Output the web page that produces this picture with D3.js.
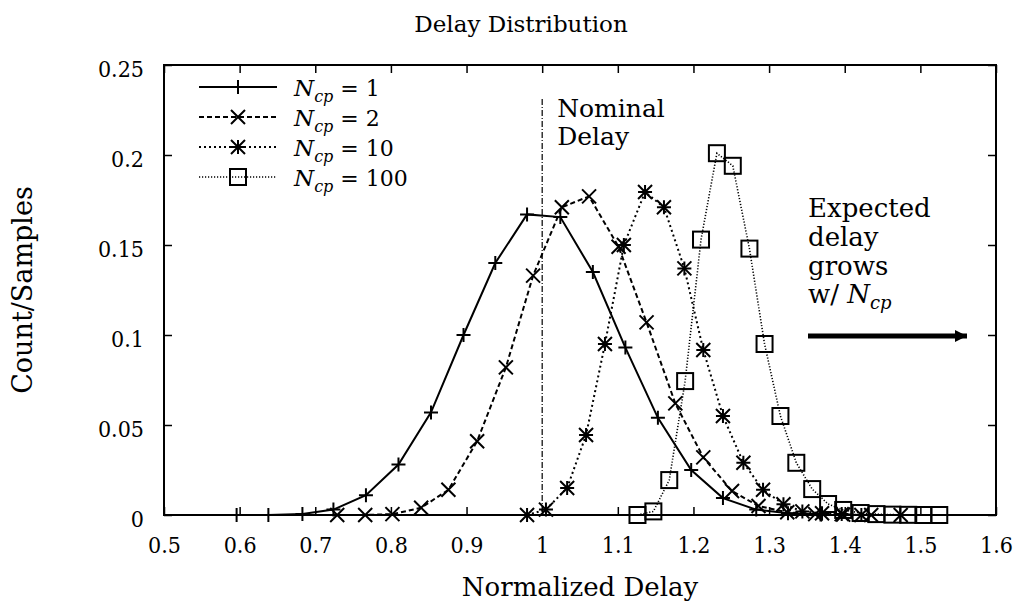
<!DOCTYPE html>
<html>
<head>
<meta charset="utf-8">
<script src="https://cdn.jsdelivr.net/npm/d3@7"></script>
<style>
  body { margin: 0; background: #fff; }
</style>
</head>
<body>
<div id="chart"></div>
<script>
// Data (x = normalized delay, y = count/samples)
const ncp1X = [0.596, 0.638, 0.683, 0.724, 0.767, 0.810, 0.853, 0.896, 0.938, 0.980, 1.024, 1.067, 1.110, 1.153, 1.197, 1.239, 1.283, 1.325, 1.368];
const ncp1Y = [0, 0, 0.0005, 0.003, 0.011, 0.028, 0.057, 0.100, 0.140, 0.167, 0.1655, 0.135, 0.093, 0.054, 0.025, 0.0094, 0.003, 0.001, 0.0003];

const ncp2X = [0.729, 0.766, 0.802, 0.840, 0.876, 0.914, 0.952, 0.988, 1.026, 1.062, 1.101, 1.138, 1.176, 1.213, 1.251, 1.286, 1.324, 1.361, 1.398, 1.435, 1.474];
const ncp2Y = [0, 0, 0.0005, 0.004, 0.014, 0.041, 0.082, 0.133, 0.171, 0.177, 0.149, 0.107, 0.062, 0.032, 0.0133, 0.005, 0.0015, 0.0005, 0.0002, 0, 0];

const ncp10X = [0.980, 1.005, 1.033, 1.058, 1.083, 1.108, 1.136, 1.161, 1.188, 1.213, 1.239, 1.266, 1.292, 1.319, 1.344, 1.370, 1.396, 1.422];
const ncp10Y = [0, 0.003, 0.015, 0.0444, 0.095, 0.150, 0.1794, 0.171, 0.137, 0.0917, 0.055, 0.029, 0.014, 0.006, 0.002, 0.001, 0.0005, 0];

const ncp100X = [1.126, 1.147, 1.168, 1.189, 1.210, 1.231, 1.252, 1.274, 1.294, 1.315, 1.336, 1.357, 1.378, 1.398, 1.421, 1.442, 1.463, 1.484, 1.504, 1.525];
const ncp100Y = [0, 0.002, 0.0194, 0.0744, 0.153, 0.201, 0.194, 0.148, 0.095, 0.055, 0.029, 0.0144, 0.0061, 0.0028, 0.0011, 0.0005, 0.0002, 0.0001, 0, 0];

const seriesNames = ["1", "2", "10", "100"];
const xTicks = [0.5, 0.6, 0.7, 0.8, 0.9, 1.0, 1.1, 1.2, 1.3, 1.4, 1.5, 1.6];
const yTicks = [0, 0.05, 0.1, 0.15, 0.2, 0.25];
const nominalDelay = 1.0;

const FONT = "'DejaVu Serif', serif";
const TICKFONT = "'DejaVu Serif Condensed', 'DejaVu Serif', serif";

const width = 1025, height = 608;
const margin = { top: 65, right: 29, bottom: 93, left: 164 };
const w = width - margin.left - margin.right;
const h = height - margin.top - margin.bottom;

const svg = d3.select("#chart").append("svg")
    .attr("width", width)
    .attr("height", height)
    .attr("font-family", FONT);

const g = svg.append("g")
    .attr("transform", "translate(" + margin.left + "," + margin.top + ")");

const x = d3.scaleLinear().domain([0.5, 1.6]).range([0, w]);
const y = d3.scaleLinear().domain([0, 0.25]).range([h, 0]);

const fmt = d => String(+d.toFixed(2));

// axes, ticks pointing inward on all four sides
g.append("g")
    .attr("transform", "translate(0," + h + ")")
    .call(d3.axisBottom(x).tickValues(xTicks).tickFormat(fmt).tickSize(-8).tickPadding(22));
g.append("g")
    .call(d3.axisTop(x).tickValues(xTicks).tickFormat("").tickSize(-8));
g.append("g").attr("class", "yaxis")
    .call(d3.axisLeft(y).tickValues(yTicks).tickFormat(fmt).tickSize(-8).tickPadding(20));
g.append("g")
    .attr("transform", "translate(" + w + ",0)")
    .call(d3.axisRight(y).tickValues(yTicks).tickFormat("").tickSize(-8));

g.selectAll(".domain").remove();
g.selectAll(".tick line").attr("stroke", "#000").attr("stroke-width", 1.5);
g.selectAll("g").attr("font-family", TICKFONT);
g.selectAll(".tick text").attr("font-size", 23).attr("fill", "#000");
g.selectAll(".yaxis .tick text").attr("dy", "0.5em");

g.append("rect")
    .attr("width", w).attr("height", h)
    .attr("fill", "none").attr("stroke", "#000").attr("stroke-width", 2);

// nominal delay marker
g.append("line")
    .attr("x1", x(nominalDelay)).attr("x2", x(nominalDelay))
    .attr("y1", 34).attr("y2", h)
    .attr("stroke", "#000").attr("stroke-width", 1.2)
    .attr("stroke-dasharray", "6,2,1,2");

const series = [
    { xs: ncp1X, ys: ncp1Y, dash: null, mark: "plus" },
    { xs: ncp2X, ys: ncp2Y, dash: "5,3", mark: "cross" },
    { xs: ncp10X, ys: ncp10Y, dash: "2,3", mark: "star" },
    { xs: ncp100X, ys: ncp100Y, dash: "1.2,1.8", mark: "box" }
];

const line = d3.line().x(d => x(d[0])).y(d => y(d[1]));

function drawMark(sel, type, cx, cy) {
    const s = 7;
    const p = sel.append("g").attr("transform", "translate(" + cx + "," + cy + ")")
        .attr("stroke", "#000").attr("stroke-width", 2).attr("fill", "none");
    if (type === "plus" || type === "star") {
        p.append("path").attr("d", `M${-s},0H${s}M0,${-s}V${s}`);
    }
    if (type === "cross" || type === "star") {
        p.append("path").attr("d", `M${-s},${-s}L${s},${s}M${-s},${s}L${s},${-s}`);
    }
    if (type === "box") {
        p.append("rect").attr("x", -s - 1).attr("y", -s - 1).attr("width", 2 * s + 2).attr("height", 2 * s + 2);
    }
}

series.forEach(sr => {
    const pts = sr.xs.map((v, i) => [v, sr.ys[i]]);
    g.append("path")
        .datum(pts)
        .attr("d", line)
        .attr("fill", "none")
        .attr("stroke", "#000")
        .attr("stroke-width", sr.dash === "1.2,1.8" ? 1.6 : 2)
        .attr("stroke-dasharray", sr.dash);
    const mg = g.append("g");
    pts.forEach(pt => drawMark(mg, sr.mark, x(pt[0]), y(pt[1])));
});

// legend
const legend = g.append("g").attr("transform", "translate(35,22)").attr("font-family", FONT);
series.forEach((sr, i) => {
    const row = legend.append("g").attr("transform", "translate(0," + (i * 30) + ")");
    row.append("line")
        .attr("x1", 0).attr("x2", 78).attr("y1", 0).attr("y2", 0)
        .attr("stroke", "#000").attr("stroke-width", sr.dash === "1.2,1.8" ? 1.6 : 2)
        .attr("stroke-dasharray", sr.dash);
    drawMark(row, sr.mark, 39, 0);
    const t = row.append("text").attr("x", 95).attr("y", 9).attr("font-size", 23);
    t.append("tspan").attr("font-style", "italic").text("N");
    t.append("tspan").attr("font-style", "italic").attr("font-size", 16).attr("dy", 6).text("cp");
    t.append("tspan").attr("dy", -6).attr("font-size", 22).text(" = " + seriesNames[i]);
});

// annotations
const nominal = g.append("text").attr("font-size", 25).attr("font-family", FONT);
nominal.append("tspan").attr("x", x(nominalDelay) + 15).attr("y", 52).text("Nominal");
nominal.append("tspan").attr("x", x(nominalDelay) + 15).attr("y", 80).text("Delay");

const ann = g.append("text").attr("font-size", 26).attr("font-family", FONT);
const annX = 644;
ann.append("tspan").attr("x", annX).attr("y", 152).text("Expected");
ann.append("tspan").attr("x", annX).attr("y", 181).text("delay");
ann.append("tspan").attr("x", annX).attr("y", 210).text("grows");
ann.append("tspan").attr("x", annX).attr("y", 238).text("w/ ");
ann.append("tspan").attr("font-style", "italic").text("N");
ann.append("tspan").attr("font-style", "italic").attr("font-size", 18).attr("dy", 6).text("cp");

// arrow
g.append("defs").append("marker")
    .attr("id", "head")
    .attr("viewBox", "0 0 10 10")
    .attr("refX", 10).attr("refY", 5)
    .attr("markerUnits", "userSpaceOnUse")
    .attr("markerWidth", 24).attr("markerHeight", 12)
    .attr("orient", "auto")
    .append("path").attr("d", "M0,0L10,5L0,10Z").attr("fill", "#000");
g.append("line")
    .attr("x1", 644).attr("x2", 803).attr("y1", 271).attr("y2", 271)
    .attr("stroke", "#000").attr("stroke-width", 5)
    .attr("marker-end", "url(#head)");

// titles
svg.append("text")
    .attr("x", 521).attr("y", 32)
    .attr("text-anchor", "middle").attr("font-size", 23)
    .text("Delay Distribution");

svg.append("text")
    .attr("x", margin.left + w / 2).attr("y", 596)
    .attr("text-anchor", "middle").attr("font-size", 26)
    .text("Normalized Delay");

svg.append("text")
    .attr("transform", "translate(32," + (margin.top + h / 2) + ") rotate(-90)")
    .attr("text-anchor", "middle").attr("font-size", 27)
    .text("Count/Samples");
</script>
</body>
</html>
